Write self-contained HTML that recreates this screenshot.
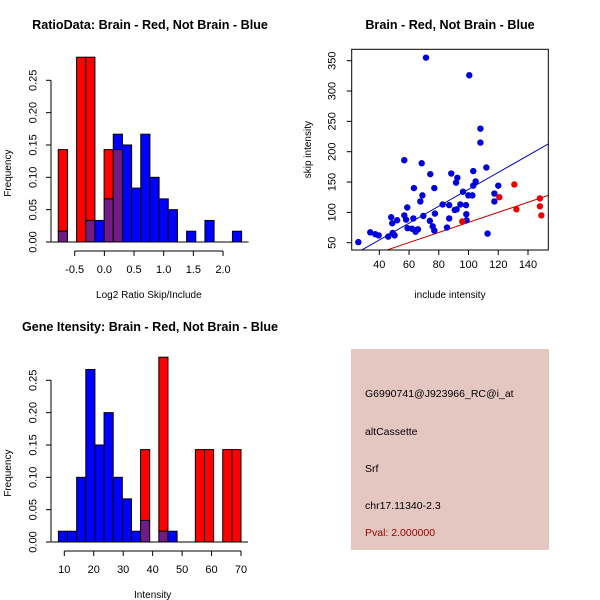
<!DOCTYPE html>
<html><head><meta charset="utf-8"><style>
body{margin:0;background:#fff}
svg{display:block;font-family:"Liberation Sans",sans-serif}
</style></head><body>
<svg id="s" width="600" height="600" xmlns="http://www.w3.org/2000/svg">
<rect width="600" height="600" fill="#fff"/>
<text x="150" y="29" text-anchor="middle" font-size="12.6" font-weight="bold">RatioData: Brain - Red, Not Brain - Blue</text>
<text x="450" y="29" text-anchor="middle" font-size="12.6" font-weight="bold">Brain - Red, Not Brain - Blue</text>
<text x="150" y="331" text-anchor="middle" font-size="12.6" font-weight="bold">Gene Itensity: Brain - Red, Not Brain - Blue</text>
<g id="p1"></g>
<g id="p2"></g>
<g id="p3"></g>
<g>
<rect x="351" y="349" width="198" height="201" fill="#e5c7c1"/>
<g font-size="10.5" fill="#000">
<text x="365" y="397">G6990741@J923966_RC@i_at</text>
<text x="365" y="435">altCassette</text>
<text x="365" y="472">Srf</text>
<text x="365" y="509">chr17.11340-2.3</text>
<text x="365" y="536" fill="#a00000">Pval: 2.000000</text>
</g></g>
</svg>
<script>
// Ratio histogram data
const ratioBinStart = -0.777, ratioBinWidth = 0.1545;
const ratioRed = [1/7,0,2/7,2/7,0,1/7,1/7,0,0,0,0,0,0,0,0,0,0,0,0,0];
const ratioBlue = [1/60,0,0,2/60,2/60,4/60,10/60,9/60,5/60,10/60,6/60,4/60,3/60,0,1/60,0,2/60,0,0,1/60];
const ratioXTicks = [-0.5,0.0,0.5,1.0,1.5,2.0];
const ratioXLabels = ["-0.5","0.0","0.5","1.0","1.5","2.0"];
const freqTicks = [0,0.05,0.10,0.15,0.20,0.25];
const freqLabels = ["0.00","0.05","0.10","0.15","0.20","0.25"];
// Gene intensity histogram
const geneBinStart = 8, geneBinWidth = 3.1;
const geneRed = [0,0,0,0,0,0,0,0,0,1/7,0,2/7,0,0,0,1/7,1/7,0,1/7,1/7];
const geneBlue = [1/60,1/60,6/60,16/60,9/60,12/60,6/60,4/60,1/60,2/60,0,1/60,1/60,0,0,0,0,0,0,0];
const geneXTicks = [10,20,30,40,50,60,70];
// Scatter
const blueX = [25.9,33.9,37.3,39.6,46,48,48.7,49,50.3,52,56.8,56.8,58,58.8,59,62,62.9,63.3,64.4,65,66,67.6,68.5,69,69.6,71.4,74,74.3,75.9,77,77,77.4,82.6,85.5,87,87,88.4,90.7,91.6,92,92.5,94.5,96.3,98.3,98.5,98.7,99.9,100.5,102.6,103.2,103.2,104.8,108,108,112,112.8,117.4,117.4,120];
const blueY = [51,67,64,62,60,92,82,66,62,87,186,95,88,108,74,73,90,140,68,71,72,118,181,128,94,355,86,163,77,140,70,98,113,75,90,112,164,104,149,105,157,113,134,112,97,87,128,326,128,168,144,151,238,215,174,65,131,118,144];
const redX = [95.8,120.7,130.8,132.2,148,148,149];
const redY = [85,125,146,105,123,110,95];
const blueFit = [-1.3,1.393];
const redFit = [0.45,0.83];
const scXTicks = [40,60,80,100,120,140];
const scYTicks = [50,100,150,200,250,300,350];

const NS="http://www.w3.org/2000/svg";
function mk(parent,tag,attrs){const e=document.createElementNS(NS,tag);for(const k in attrs)e.setAttribute(k,attrs[k]);parent.appendChild(e);return e;}

function hist(g, x0px, x0val, pxPerUnit, yZero, pxPerFreq, binStart, binW, red, blue, xt, xl, xlabel, prefix){
  const X=v=>x0px+(v-x0val)*pxPerUnit, Y=f=>yZero-f*pxPerFreq;
  for(let i=0;i<red.length;i++){
    const a=X(binStart+i*binW), b=X(binStart+(i+1)*binW);
    const r=red[i], bl=blue[i];
    if(r<=0&&bl<=0) continue;
    const mn=Math.min(r,bl), mx=Math.max(r,bl);
    const topCol = r>=bl ? "#ff0000" : "#0000ff";
    const e1=mk(g,"rect",{x:a,y:Y(mx),width:b-a,height:Y(mn)-Y(mx),fill:topCol,stroke:"#000","stroke-width":1});
    
    
    if(mn>0){
      const e2=mk(g,"rect",{x:a,y:Y(mn),width:b-a,height:yZero-Y(mn),fill:"#701c84",stroke:"#000","stroke-width":1});
      
      
    }
  }
  mk(g,"line",{x1:X(binStart)-7,x2:X(binStart+red.length*binW)+7,y1:yZero,y2:yZero,stroke:"#000"});
  const ax=51;
  mk(g,"line",{x1:ax,x2:ax,y1:Y(0),y2:Y(0.25),stroke:"#000"});
  freqTicks.forEach((t,i)=>{
    mk(g,"line",{x1:ax-5,x2:ax,y1:Y(t),y2:Y(t),stroke:"#000"});
    const tx=mk(g,"text",{x:0,y:0,"font-size":"11","text-anchor":"middle",transform:`translate(${ax-14.5},${Y(t)}) rotate(-90)`});
    tx.textContent=freqLabels[i];
    
    
  });
  const yl=mk(g,"text",{x:0,y:0,"font-size":"10","text-anchor":"middle",transform:`translate(11,${(Y(0)+Y(0.25))/2+12}) rotate(-90)`});
  yl.textContent="Frequency";
  
  
  const ay=yZero+9;
  mk(g,"line",{x1:X(xt[0]),x2:X(xt[xt.length-1]),y1:ay,y2:ay,stroke:"#000"});
  xt.forEach((t,i)=>{
    mk(g,"line",{x1:X(t),x2:X(t),y1:ay,y2:ay+5,stroke:"#000"});
    const tx=mk(g,"text",{x:X(t),y:ay+22,"font-size":"11","text-anchor":"middle"});
    tx.textContent=xl[i];
    
    
  });
  const xlb=mk(g,"text",{x:(X(xt[0])+X(xt[xt.length-1]))/2,y:yZero+56,"font-size":"10","text-anchor":"middle"});
  xlb.textContent=xlabel;
  
  
}
hist(document.getElementById("p1"),74.7,-0.5,59.33,242,646.8,ratioBinStart,ratioBinWidth,ratioRed,ratioBlue,ratioXTicks,ratioXLabels,"Log2 Ratio Skip/Include","ratio");
hist(document.getElementById("p3"),64.3,10,2.945,542,646.8,geneBinStart,geneBinWidth,geneRed,geneBlue,geneXTicks,geneXTicks.map(String),"Intensity","gene");

(function(){
  const g=document.getElementById("p2");
  const X=v=>379.3+(v-40)*1.487, Y=v=>242.7-(v-50)*0.6067;
  const L=351.7,R=548.3,T=49.3,B=250;
  mk(g,"clipPath",{id:"cp"}).appendChild(document.createElementNS(NS,"rect"));
  const cr=g.querySelector("#cp rect");cr.setAttribute("x",L);cr.setAttribute("y",T);cr.setAttribute("width",R-L);cr.setAttribute("height",B-T);
  [[blueFit,"#0000cc","blue-fit-line"],[redFit,"#cc0000","red-fit-line"]].forEach(([f,c,n])=>{
    const l=mk(g,"line",{x1:X(0),y1:Y(f[0]),x2:X(200),y2:Y(f[0]+f[1]*200),stroke:c,"clip-path":"url(#cp)"});
    
    
  });
  blueX.forEach((x,i)=>{
    const c=mk(g,"circle",{cx:X(x),cy:Y(blueY[i]),r:3.2,fill:"#0000dd"});
    
    
  });
  redX.forEach((x,i)=>{
    const c=mk(g,"circle",{cx:X(x),cy:Y(redY[i]),r:3.2,fill:"#ee0000"});
    
    
  });
  mk(g,"rect",{x:L,y:T,width:R-L,height:B-T,fill:"none",stroke:"#000"});
  scXTicks.forEach(t=>{
    mk(g,"line",{x1:X(t),x2:X(t),y1:B,y2:B+5,stroke:"#000"});
    const tx=mk(g,"text",{x:X(t),y:B+18,"font-size":"11","text-anchor":"middle"});
    tx.textContent=t;
    
    
  });
  scYTicks.forEach(t=>{
    mk(g,"line",{x1:L-5,x2:L,y1:Y(t),y2:Y(t),stroke:"#000"});
    const tx=mk(g,"text",{x:0,y:0,"font-size":"11","text-anchor":"middle",transform:`translate(${L-16},${Y(t)}) rotate(-90)`});
    tx.textContent=t;
    
    
  });
  const xl=mk(g,"text",{x:450,y:298,"font-size":"10","text-anchor":"middle"});
  xl.textContent="include intensity";
  
  
  const yl=mk(g,"text",{x:0,y:0,"font-size":"10","text-anchor":"middle",transform:`translate(311,${(T+B)/2}) rotate(-90)`});
  yl.textContent="skip intensity";
  
  
})();
</script>
</body></html>
